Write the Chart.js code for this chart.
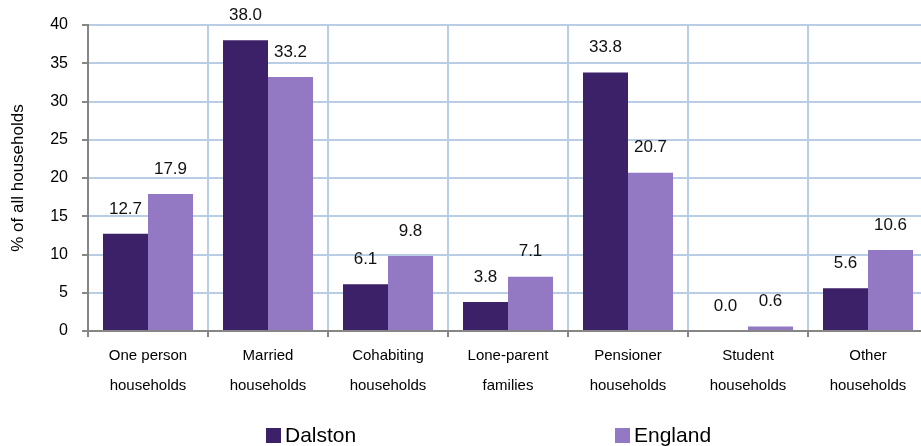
<!DOCTYPE html>
<html>
<head>
<meta charset="utf-8">
<script src="https://cdn.jsdelivr.net/npm/chart.js@4"></script>
<style>
  html, body { margin: 0; padding: 0; background: #fff; overflow: hidden; }
  #wrap { position: relative; width: 921px; height: 446px; overflow: hidden; }
  #chart { position: absolute; left: 0; top: 0; }
  #legend { position: absolute; top: 420px; left: 0; width: 921px; height: 26px;
            font-family: "Liberation Sans", Arial, sans-serif; font-size: 21px; color: #000; }
  .item { position: absolute; top: 3px; display: flex; align-items: center; }
  .box { width: 15px; height: 15px; margin-right: 4px; }
</style>
</head>
<body>
<div id="wrap">
  <!-- canvas a bit wider than the window: the plot runs past the right edge in the original -->
  <canvas id="chart" width="928" height="446"></canvas>
  <div id="legend"></div>
</div>
<script>
// categories (two lines each) and the two series
const categories = [
    ['One person', 'households'],
    ['Married', 'households'],
    ['Cohabiting', 'households'],
    ['Lone-parent', 'families'],
    ['Pensioner', 'households'],
    ['Student', 'households'],
    ['Other', 'households']
];
const dalston = [12.7, 38.0, 6.1, 3.8, 33.8, 0.0, 5.6];
const england = [17.9, 33.2, 9.8, 7.1, 20.7, 0.6, 10.6];
const seriesNames = ['Dalston', 'England'];
const seriesColors = ['#3d2168', '#9378c4'];
const yTicks = [0, 5, 10, 15, 20, 25, 30, 35, 40];

const font = '"Liberation Sans", Arial, sans-serif';

// draw the value above each bar
const valueLabels = {
    id: 'valueLabels',
    afterDatasetsDraw(chart) {
        const ctx = chart.ctx;
        ctx.save();
        ctx.font = '17px ' + font;
        ctx.fillStyle = '#111';
        ctx.textAlign = 'center';
        ctx.textBaseline = 'middle';
        chart.data.datasets.forEach((ds, i) => {
            chart.getDatasetMeta(i).data.forEach((bar, j) => {
                ctx.fillText(ds.data[j].toFixed(1), bar.x, bar.y - 25);
            });
        });
        ctx.restore();
    }
};

const ctx = document.getElementById('chart').getContext('2d');
const chart = new Chart(ctx, {
    type: 'bar',
    data: {
        labels: categories,
        datasets: [
            { label: seriesNames[0], data: dalston, backgroundColor: seriesColors[0] },
            { label: seriesNames[1], data: england, backgroundColor: seriesColors[1] }
        ]
    },
    options: {
        responsive: false,
        animation: false,
        layout: { padding: { top: 25, right: 0, bottom: 0, left: 0 } },
        datasets: { bar: { categoryPercentage: 0.75, barPercentage: 1.0 } },
        plugins: {
            legend: { display: false },
            tooltip: { enabled: false }
        },
        scales: {
            x: {
                afterFit(scale) { scale.height = 115; },
                grid: { color: '#b9cde5', lineWidth: 2, tickColor: '#868686', tickLength: 6, offset: true },
                border: { color: '#868686', width: 2 },
                ticks: {
                    color: '#000',
                    font: { family: font, size: 15, lineHeight: 2.0 },
                    padding: 4,
                    maxRotation: 0
                }
            },
            y: {
                min: 0,
                max: 40,
                afterFit(scale) { scale.width = 88; },
                afterBuildTicks(scale) { scale.ticks = yTicks.map(v => ({ value: v })); },
                grid: { color: '#b9cde5', lineWidth: 2, tickColor: '#868686', tickLength: 6 },
                border: { color: '#868686', width: 2 },
                ticks: {
                    color: '#000',
                    font: { family: font, size: 16 },
                    padding: 14
                },
                title: {
                    display: true,
                    text: '% of all households',
                    color: '#000',
                    font: { family: font, size: 17 },
                    padding: { top: 8, bottom: 0 }
                }
            }
        }
    },
    plugins: [valueLabels]
});

// legend below the chart
const legendPos = [266, 615];
const legend = document.getElementById('legend');
chart.data.datasets.forEach((ds, i) => {
    const item = document.createElement('div');
    item.className = 'item';
    item.style.left = legendPos[i] + 'px';
    item.innerHTML = '<div class="box" style="background:' + ds.backgroundColor + '"></div>' + ds.label;
    legend.appendChild(item);
});
</script>
</body>
</html>
